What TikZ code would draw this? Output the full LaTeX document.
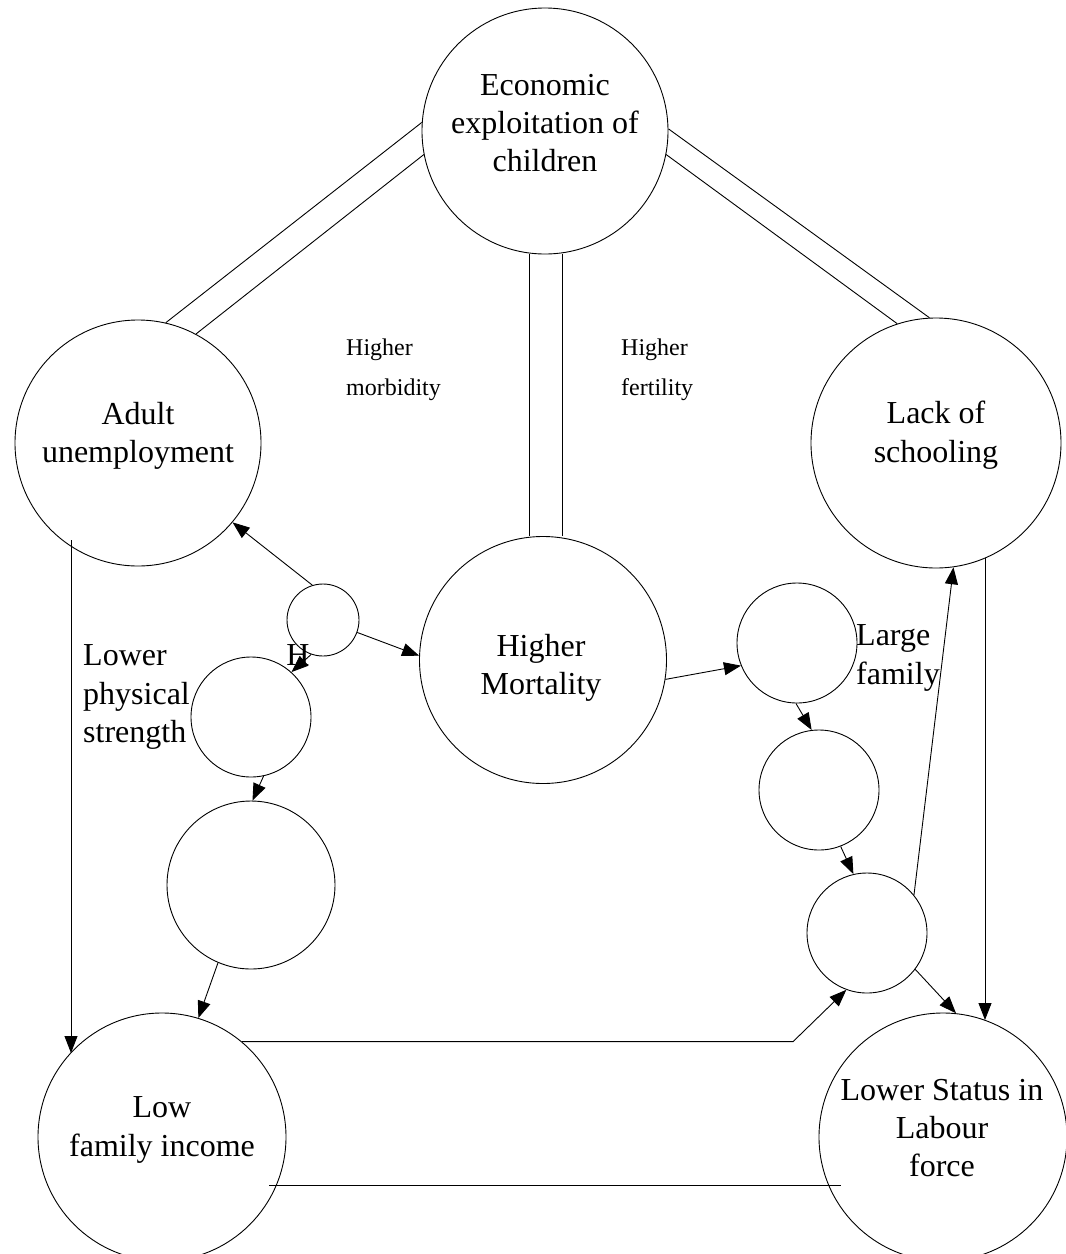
\documentclass[tikz,border=0pt]{standalone}
\usepackage{fontspec}
\setmainfont{Liberation Serif}
\usetikzlibrary{arrows.meta}
\begin{document}
\begin{tikzpicture}[x=1pt,y=-1pt,
  circ/.style={draw, circle, inner sep=0pt, line width=0.9pt},
  lbl/.style={font=\fontsize{32}{38.4}\selectfont, align=center, inner sep=0pt},
  sml/.style={font=\fontsize{24}{40}\selectfont, align=left, inner sep=0pt},
  conn/.style={line width=0.9pt},
  arr/.style={conn, -{Triangle[length=17pt,width=13pt]}}]
\useasboundingbox (0,0) rectangle (1066,1254);

% circles
\node[circ, minimum size=246pt] (top) at (545,131) {};
\node[circ, minimum size=246pt] (adult) at (138,443) {};
\node[circ, minimum size=250pt] (school) at (936,443) {};
\node[circ, minimum size=247pt] (mort) at (543,660) {};
\node[circ, minimum size=72pt] (s1) at (323,620) {};
\node[circ, minimum size=120pt] (s2) at (251,717) {};
\node[circ, minimum size=168pt] (s3) at (251,885) {};
\node[circ, minimum size=248pt] (income) at (162,1137) {};
\node[circ, minimum size=248pt] (status) at (943,1137) {};
\node[circ, minimum size=120pt] (lf) at (797,643) {};
\node[circ, minimum size=120pt] (c11) at (819,790) {};
\node[circ, minimum size=120pt] (c12) at (867,933) {};

% texts
\node[lbl] (topT) at (545,123) {Economic\\exploitation of\\children};
\node[lbl] (adultT) at (138,436) {Adult\\unemployment};
\node[lbl] (schoolT) at (936,435) {Lack of\\schooling};
\node[lbl] (mortT) at (541,668) {Higher\\Mortality};
\node[lbl] (incomeT) at (162,1130) {Low\\family income};
\node[lbl] (statusT) at (942,1128) {Lower Status in\\Labour\\force};
\node[lbl, align=left, anchor=west] (s2T) at (83,697) {Lower\\physical\\strength};
\node[lbl, align=left, anchor=west] (lfT) at (856,658) {Large\\family};
\node[sml, anchor=west] (morbT) at (346,370) {Higher\\morbidity};
\node[sml, anchor=west] (fertT) at (621,370) {Higher\\fertility};
\node[lbl] (hT) at (298,655) {H};

% double lines
\draw[conn] (top.176) -- (adult.77);
\draw[conn] (top.191) -- (adult.62);
\draw[conn] (top.1) -- (school.93);
\draw[conn] (top.-11) -- (school.108);
\draw[conn] ([xshift=-16pt]top.south) -- ([xshift=-14pt]mort.north);
\draw[conn] ([xshift=17pt]top.south) -- ([xshift=19pt]mort.north);

% arrows
\draw[arr] (s1.107) -- (adult.-40);
\draw[arr] (s1.-20) -- (mort.178);
\draw[arr] (s1.251) -- (s2.48);
\draw[arr] (s2.-78) -- (s3.89);
\draw[arr] (s3.247) -- (income.73);
\draw[arr] ([shift={(-67pt,-97pt)}]adult.center) -- ([shift={(-91pt,84pt)}]income.center);
\draw[arr] (mort.-9) -- (lf.202);
\draw[arr] (lf.-91) -- (c11.97);
\draw[arr] (c11.-69) -- (c12.103);
\draw[arr] (c12.39) -- (school.-82.5);
\draw[arr] (c12.-37.6) -- (status.84);
\draw[arr] ([shift={(49pt,-115pt)}]school.center) -- ([shift={(42pt,117pt)}]status.center);
\coordinate (kink) at (793,1041);
\draw[arr] (income.50.5) -- (income.50.5 -| kink) -- (c12.250);
\draw[conn] ([shift={(107pt,-48pt)}]income.center) -- ([shift={(-102pt,-48pt)}]status.center);
\end{tikzpicture}
\end{document}
